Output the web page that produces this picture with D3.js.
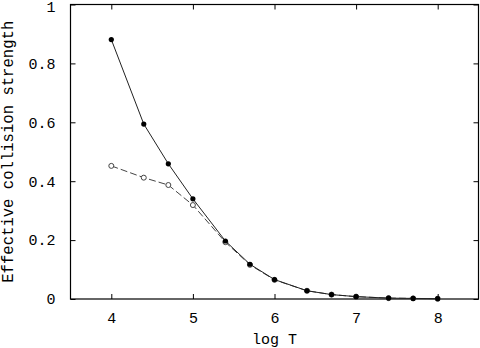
<!DOCTYPE html>
<html><head><meta charset="utf-8">
<script src="https://cdn.jsdelivr.net/npm/d3@7"></script>
<style>body{margin:0;background:#fff}svg{display:block}</style>
</head><body>
<script>
const logT = [4.0, 4.398, 4.699, 5.0, 5.398, 5.699, 6.0, 6.398, 6.699, 7.0, 7.398, 7.699, 8.0];
const solidVals = [0.881, 0.594, 0.459, 0.340, 0.197, 0.118, 0.066, 0.028, 0.015, 0.008, 0.003, 0.002, 0.001];
const dashedVals = [0.452, 0.412, 0.387, 0.319, 0.193, 0.116, 0.065, 0.028, 0.015, 0.008, 0.003, 0.002, 0.001];
const xTicks = [4, 5, 6, 7, 8];
const yTicks = [0, 0.2, 0.4, 0.6, 0.8, 1];
const xLabel = "log T";
const yLabel = "Effective collision strength";

const W = 480, H = 348;
const L = 70.5, R = 478.5, T = 4.5, B = 299;
const font = "'Liberation Mono', 'Courier New', monospace";
const svg = d3.select("body").append("svg").attr("width", W).attr("height", H);
const x = d3.scaleLinear().domain([3.5, 8.5]).range([L, R]);
const y = d3.scaleLinear().domain([0, 1]).range([B, T]);

const tickLen = 5;
svg.append("rect").attr("x", L).attr("y", T).attr("width", R - L).attr("height", B - T)
  .attr("fill", "none").attr("stroke", "#000").attr("stroke-width", 1.2);

const axB = svg.append("g").attr("transform", `translate(0,${B})`)
  .call(d3.axisBottom(x).tickValues(xTicks).tickSizeInner(-tickLen).tickSizeOuter(0).tickPadding(13).tickFormat(d3.format("d")));
const axT = svg.append("g").attr("transform", `translate(0,${T})`)
  .call(d3.axisTop(x).tickValues(xTicks).tickSizeInner(-tickLen).tickSizeOuter(0).tickFormat(""));
const axL = svg.append("g").attr("transform", `translate(${L},0)`)
  .call(d3.axisLeft(y).tickValues(yTicks).tickSizeInner(-tickLen).tickSizeOuter(0).tickPadding(15).tickFormat(d => d === 0 || d === 1 ? d3.format("d")(d) : d3.format(".1f")(d)));
const axR = svg.append("g").attr("transform", `translate(${R},0)`)
  .call(d3.axisRight(y).tickValues(yTicks).tickSizeInner(-tickLen).tickSizeOuter(0).tickFormat(""));
[axB, axT, axL, axR].forEach(a => {
  a.select(".domain").remove();
  a.selectAll("line").attr("stroke", "#000");
  a.selectAll("text").attr("font-family", font).attr("font-size", 15).attr("fill", "#000");
});
axL.selectAll(".tick").filter(d => d === 1).select("text").attr("dy", "0.32em").attr("y", 2);

svg.append("text").attr("x", (L + R) / 2).attr("y", 344).attr("text-anchor", "middle")
  .attr("font-family", font).attr("font-size", 15).text(xLabel);
svg.append("text").attr("transform", `translate(13,${(T + B) / 2}) rotate(-90)`).attr("text-anchor", "middle")
  .attr("font-family", font).attr("font-size", 15.6).text(yLabel);

const line = d3.line().x(d => x(d[0])).y(d => y(d[1]));
const dData = logT.map((t, i) => [t, dashedVals[i]]);
const sData = logT.map((t, i) => [t, solidVals[i]]);

svg.append("path").datum(dData).attr("d", line).attr("fill", "none")
  .attr("stroke", "#444").attr("stroke-width", 1).attr("stroke-dasharray", "7,3");
svg.append("g").selectAll("circle").data(dData).join("circle")
  .attr("cx", d => x(d[0])).attr("cy", d => y(d[1])).attr("r", 2.5)
  .attr("fill", "#fff").attr("stroke", "#444").attr("stroke-width", 1);

svg.append("path").datum(sData).attr("d", line).attr("fill", "none")
  .attr("stroke", "#222").attr("stroke-width", 1);
svg.append("g").selectAll("circle").data(sData).join("circle")
  .attr("cx", d => x(d[0])).attr("cy", d => y(d[1])).attr("r", 2.6)
  .attr("fill", "#000");
</script>
</body></html>
